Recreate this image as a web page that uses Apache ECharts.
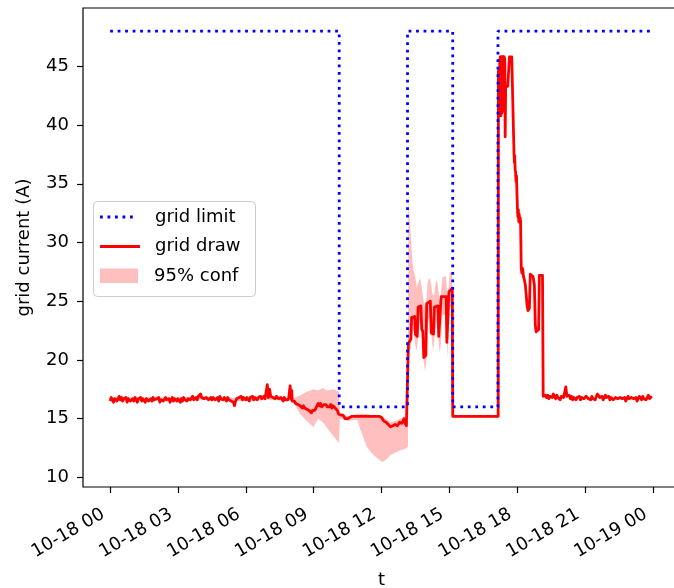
<!DOCTYPE html>
<html>
<head>
<meta charset="utf-8">
<script src="https://cdn.jsdelivr.net/npm/echarts@6/dist/echarts.min.js"></script>
<style>
  html, body { margin: 0; padding: 0; background: #fff; }
  #chart { width: 674px; height: 588px; }
</style>
</head>
<body>
<div id="chart"></div>
<script>
// Time is given in hours from 10-18 00:00.
const xTickHours = [0, 3, 6, 9, 12, 15, 18, 21, 24];
const xTickLabels = ['10-18 00', '10-18 03', '10-18 06', '10-18 09', '10-18 12',
                     '10-18 15', '10-18 18', '10-18 21', '10-19 00'];
const yTicks = [10, 15, 20, 25, 30, 35, 40, 45];

// Grid current limit (A), held until the next change time.
const limitTimes = [0, 10.13, 13.15, 15.15, 17.15, 23.92];
const limitValues = [48, 16, 48, 16, 48, 48];

// Measured grid draw (A): [hour, current]
const gridDraw = [
  [0.00,16.5],[0.05,16.8],[0.10,16.6],[0.15,16.4],[0.20,16.7],[0.25,16.8],[0.30,16.5],[0.35,16.7],[0.40,16.9],[0.45,16.6],
  [0.50,16.8],[0.55,16.5],[0.60,16.7],[0.65,16.6],[0.70,16.8],[0.75,16.4],[0.80,16.7],[0.85,16.8],[0.90,16.5],[0.95,16.6],
  [1.00,16.7],[1.05,16.5],[1.10,16.8],[1.15,16.6],[1.20,16.4],[1.25,16.7],[1.30,16.6],[1.35,16.8],[1.40,16.5],[1.45,16.7],
  [1.50,16.6],[1.55,16.4],[1.60,16.7],[1.65,16.8],[1.70,16.5],[1.75,16.6],[1.80,16.7],[1.85,16.5],[1.90,16.8],[1.95,16.6],
  [2.00,16.5],[2.05,16.7],[2.10,16.6],[2.15,16.8],[2.20,16.4],[2.25,16.6],[2.30,16.7],[2.35,16.5],[2.40,16.6],[2.45,16.8],
  [2.50,16.6],[2.55,16.5],[2.60,16.7],[2.65,16.4],[2.70,16.6],[2.75,16.8],[2.80,16.5],[2.85,16.7],[2.90,16.6],[2.95,16.5],
  [3.00,16.7],[3.05,16.6],[3.10,16.4],[3.15,16.7],[3.20,16.5],[3.25,16.8],[3.30,16.6],[3.35,16.7],[3.40,16.5],[3.45,16.7],
  [3.50,16.8],[3.55,16.6],[3.60,16.7],[3.65,16.9],[3.70,16.6],[3.75,16.7],[3.80,16.8],[3.85,16.6],[3.90,16.9],[3.95,16.8],
  [4.00,17.1],[4.05,16.8],[4.10,16.9],[4.15,16.7],[4.20,16.6],[4.25,16.8],[4.30,16.9],[4.35,16.6],[4.40,16.7],[4.45,16.8],
  [4.50,16.6],[4.55,16.8],[4.60,16.9],[4.65,16.6],[4.70,16.7],[4.75,16.8],[4.80,16.5],[4.85,16.9],[4.90,16.7],[4.95,16.8],
  [5.00,16.6],[5.05,16.8],[5.10,16.7],[5.15,16.5],[5.20,16.8],[5.25,16.6],[5.30,16.7],[5.35,16.5],[5.40,16.6],[5.45,16.4],
  [5.50,16.1],[5.55,16.5],[5.60,16.7],[5.65,16.6],[5.70,16.8],[5.75,16.7],[5.80,16.9],[5.85,16.6],[5.90,16.8],[5.95,16.7],
  [6.00,16.6],[6.05,16.8],[6.10,16.7],[6.15,16.5],[6.20,16.8],[6.25,16.7],[6.30,16.9],[6.35,16.6],[6.40,16.8],[6.45,16.7],
  [6.50,16.6],[6.55,16.8],[6.60,16.7],[6.65,16.9],[6.70,16.7],[6.75,16.8],[6.80,16.9],[6.85,16.7],[6.90,16.8],[6.95,17.9],
  [7.00,16.8],[7.05,17.5],[7.10,16.9],[7.15,17.0],[7.20,16.8],[7.25,16.9],[7.30,16.7],[7.35,16.9],[7.40,16.8],[7.45,16.7],
  [7.50,16.6],[7.55,16.8],[7.60,16.7],[7.65,16.5],[7.70,16.8],[7.75,16.6],[7.80,16.7],[7.85,16.6],[7.90,16.8],[7.96,17.8],
  [8.00,16.7],[8.03,17.4],[8.05,16.5],[8.10,16.4],[8.15,16.5],[8.20,16.3],[8.25,16.4],[8.30,16.2],[8.35,16.3],[8.40,16.1],
  [8.45,16.2],[8.50,15.9],[8.55,16.1],[8.60,15.9],[8.65,16.0],[8.70,15.8],[8.75,15.9],[8.80,15.7],[8.85,15.8],[8.90,15.5],
  [8.95,15.7],[9.00,15.8],[9.05,15.7],[9.10,15.9],[9.15,16.0],[9.20,16.3],[9.25,16.1],[9.30,16.3],[9.35,16.0],[9.40,15.9],
  [9.45,16.2],[9.50,16.1],[9.55,16.2],[9.60,16.0],[9.65,16.1],[9.70,16.0],[9.75,16.2],[9.80,15.9],[9.85,16.1],[9.90,16.0],
  [9.95,15.9],[10.00,16.0],[10.05,15.7],[10.10,15.4],[10.20,15.3],[10.30,15.3],[10.40,15.0],[10.50,15.0],
  [10.60,15.1],[10.70,15.2],[10.90,15.2],[11.50,15.2],[11.90,15.2],[12.00,15.1],[12.10,14.8],[12.20,14.7],[12.30,14.5],[12.40,14.3],
  [12.50,14.4],[12.60,14.5],[12.70,14.4],[12.80,14.7],[12.90,14.6],[13.00,15.0],[13.05,14.6],[13.10,14.4],[13.17,14.3],
  [13.19,21.4],[13.30,21.8],[13.33,23.6],[13.47,23.7],[13.50,22.2],[13.58,22.0],[13.62,24.5],[13.74,24.6],[13.78,22.6],[13.83,22.4],
  [13.87,20.2],[13.96,20.4],[14.00,24.8],[14.16,25.0],[14.20,22.3],[14.30,22.2],[14.34,24.5],[14.50,24.6],[14.53,22.0],[14.60,22.1],
  [14.64,25.4],[14.86,25.4],[14.89,21.5],[14.95,21.6],[14.98,25.8],[15.13,26.1],[15.15,15.2],[17.16,15.2],
  [17.17,44.6],[17.18,41.2],[17.19,44.8],[17.20,40.9],[17.21,44.7],[17.22,41.0],[17.23,45.6],[17.24,40.8],[17.25,45.8],[17.26,41.3],
  [17.27,45.8],[17.28,40.8],[17.29,45.7],[17.30,41.5],[17.31,45.8],[17.32,41.0],[17.33,45.8],[17.34,41.4],[17.35,45.8],[17.36,41.2],
  [17.37,45.8],[17.38,41.6],[17.39,45.8],[17.40,41.5],[17.41,45.8],[17.42,42.0],[17.43,45.8],[17.45,45.6],[17.47,39.0],[17.49,43.3],
  [17.58,43.3],[17.64,43.3],[17.66,45.8],[17.76,45.8],[17.84,45.8],[17.86,37.6],
  [17.88,36.8],[17.89,37.4],[17.91,36.2],[17.93,36.0],[17.95,35.2],[17.97,35.7],[17.99,34.2],[18.01,33.0],[18.03,32.2],[18.05,32.8],
  [18.07,31.8],[18.09,32.4],[18.11,31.7],[18.13,32.1],[18.15,31.8],[18.17,31.9],[18.18,27.8],[18.21,27.4],[18.24,27.8],[18.28,27.1],
  [18.32,26.8],[18.36,26.4],[18.40,26.5],[18.44,24.6],[18.48,24.2],[18.54,24.4],[18.58,27.3],[18.64,27.3],[18.70,27.1],[18.76,26.4],
  [18.80,23.0],[18.84,22.4],[18.90,22.4],[18.95,22.6],[18.98,27.2],[19.05,27.3],[19.12,27.2],[19.15,16.9],
  [19.20,16.9],[19.25,17.0],[19.30,16.8],[19.35,17.0],[19.40,16.7],[19.45,16.9],
  [19.50,17.0],[19.55,16.8],[19.60,17.1],[19.65,16.9],[19.70,16.7],[19.75,17.0],[19.80,16.8],[19.85,16.9],[19.90,16.6],[19.95,16.9],
  [20.00,17.0],[20.05,16.8],[20.10,16.7],[20.15,17.7],[20.20,16.9],[20.25,16.8],[20.30,17.0],[20.35,16.7],[20.40,16.9],[20.45,16.6],
  [20.50,16.8],[20.55,16.9],[20.60,16.6],[20.65,16.8],[20.70,16.7],[20.75,16.9],[20.80,16.6],[20.85,16.8],[20.90,16.9],[20.95,16.7],
  [21.00,16.6],[21.05,16.9],[21.10,17.0],[21.15,16.7],[21.20,16.8],[21.25,16.6],[21.30,16.9],[21.35,16.7],[21.40,16.8],[21.45,16.6],
  [21.50,16.9],[21.55,17.1],[21.60,17.0],[21.65,16.8],[21.70,16.7],[21.75,16.9],[21.80,16.6],[21.85,16.8],[21.90,17.0],[21.95,16.8],
  [22.00,16.7],[22.05,16.9],[22.10,16.6],[22.15,16.8],[22.20,16.9],[22.25,16.6],[22.30,16.5],[22.35,16.8],[22.40,16.9],[22.45,16.7],
  [22.50,16.6],[22.55,16.8],[22.60,16.9],[22.65,16.7],[22.70,16.6],[22.75,16.8],[22.80,16.5],[22.85,16.7],[22.90,16.9],[22.95,16.7],
  [23.00,16.6],[23.05,16.8],[23.10,16.9],[23.15,16.7],[23.20,16.6],[23.25,16.8],[23.30,16.5],[23.35,16.7],[23.40,16.9],[23.45,16.8],
  [23.50,16.6],[23.55,16.9],[23.60,16.7],[23.65,16.8],[23.70,16.6],[23.75,16.8],[23.80,17.0],[23.85,16.7],[23.90,16.8],[23.95,16.9]
];

// 95% confidence band of the grid draw.
const confTimes = [0, 1, 2, 3, 4, 5, 6, 7, 8.0, 8.2, 8.4, 8.7, 8.99, 9.2, 9.4, 9.6, 9.88, 10.12,
  10.16, 10.5, 10.93, 11.06, 11.35, 11.6, 11.8, 12.03, 12.2, 12.4, 12.6, 12.83, 13.0, 13.17,
  13.19, 13.25, 13.3, 13.36, 13.42, 13.5, 13.56, 13.62, 13.69, 13.75, 13.86, 13.93, 13.98, 14.04,
  14.1, 14.16, 14.27, 14.33, 14.4, 14.46, 14.57, 14.62, 14.7, 14.84, 14.93, 15.02, 15.13, 15.15, 17.15];
const confLower = [16.5, 16.5, 16.5, 16.5, 16.6, 16.5, 16.5, 16.6, 16.5, 16.1, 15.4, 14.8, 14.3, 15.0, 14.7, 14.2, 13.5, 12.9,
  15.0, 14.8, 14.9, 14.1, 12.6, 12.0, 11.65, 11.3, 11.5, 11.9, 12.1, 12.3, 12.4, 12.6,
  20.5, 20.8, 21.0, 22.3, 22.5, 21.2, 20.8, 22.0, 23.2, 22.8, 20.0, 19.0, 19.8, 22.8,
  23.6, 23.4, 20.8, 21.5, 23.0, 23.2, 20.6, 21.2, 23.8, 23.9, 20.2, 24.5, 24.7, 15.1, 15.1];
const confUpper = [16.8, 16.8, 16.8, 16.8, 16.9, 16.8, 16.8, 16.9, 16.8, 16.8, 17.0, 17.3, 17.5, 17.4, 17.6, 17.4, 17.5, 17.3,
  15.5, 15.2, 15.4, 15.4, 15.4, 15.3, 15.3, 15.2, 15.0, 14.7, 14.8, 15.0, 15.2, 14.8,
  34.0, 32.0, 30.5, 28.5, 27.6, 27.0, 26.2, 26.5, 27.0, 26.6, 25.0, 24.5, 25.0, 26.6,
  27.0, 26.8, 25.5, 25.5, 26.6, 26.8, 25.0, 25.5, 27.0, 27.2, 25.0, 27.5, 27.3, 15.3, 15.3];

const FONT = 'DejaVu Sans';
const LIMIT_DASH = [2.8, 4.7];

const chart = echarts.init(document.getElementById('chart'), null, { renderer: 'canvas' });

// Band polygon: upper edge left-to-right, lower edge back right-to-left.
function renderConfBand(params, api) {
  const pts = [];
  for (let i = 0; i < confTimes.length; i++) pts.push(api.coord([confTimes[i], confUpper[i]]));
  for (let i = confTimes.length - 1; i >= 0; i--) pts.push(api.coord([confTimes[i], confLower[i]]));
  return {
    type: 'polygon',
    shape: { points: pts },
    style: { fill: '#ffbfbf', stroke: 'none' }
  };
}

chart.setOption({
  animation: false,
  backgroundColor: '#ffffff',
  textStyle: { fontFamily: FONT, color: '#000' },
  grid: {
    left: 83, top: 8, width: 597, height: 479,
    outerBoundsMode: 'none',
    containLabel: false,
    show: true, borderColor: '#000', borderWidth: 1.2, backgroundColor: 'transparent'
  },
  xAxis: {
    type: 'value',
    min: -1.2, max: 25.2,
    name: 't',
    nameLocation: 'middle',
    nameGap: 84,
    nameTextStyle: { fontFamily: FONT, fontSize: 18, color: '#000' },
    axisLine: { show: false, onZero: false },
    splitLine: { show: false },
    axisTick: { show: true, length: 6, customValues: xTickHours, lineStyle: { color: '#000', width: 1.2 } },
    axisLabel: {
      customValues: xTickHours,
      rotate: 30,
      margin: 22,
      padding: [0, 8, 0, 0],
      fontFamily: FONT, fontSize: 18, color: '#000',
      formatter: v => xTickLabels[xTickHours.indexOf(Math.round(v))]
    }
  },
  yAxis: {
    type: 'value',
    min: 9.18, max: 49.97,
    name: 'grid current (A)',
    nameLocation: 'middle',
    nameGap: 50,
    nameTextStyle: { fontFamily: FONT, fontSize: 18, color: '#000' },
    axisLine: { show: false, onZero: false },
    splitLine: { show: false },
    axisTick: { show: true, length: 6, customValues: yTicks, lineStyle: { color: '#000', width: 1.2 } },
    axisLabel: { customValues: yTicks, margin: 14, fontFamily: FONT, fontSize: 18, color: '#000' }
  },
  series: [
    {
      name: '95% conf',
      type: 'custom',
      silent: true,
      clip: true,
      renderItem: renderConfBand,
      data: [[confTimes[0], confLower[0]]],
      z: 1
    },
    {
      name: 'grid draw',
      type: 'line',
      symbol: 'none',
      silent: true,
      lineStyle: { color: '#ff0000', width: 2.8, join: 'round' },
      data: gridDraw,
      z: 2
    },
    {
      name: 'grid limit',
      type: 'line',
      step: 'end',
      symbol: 'none',
      silent: true,
      lineStyle: { color: '#0000ff', width: 2.8, type: LIMIT_DASH, cap: 'butt' },
      data: limitTimes.map((t, i) => [t, limitValues[i]]),
      z: 3
    }
  ],
  graphic: [
    {
      type: 'group', left: 93, top: 201, z: 10,
      children: [
        { type: 'rect', shape: { x: 0.5, y: 0.5, width: 162, height: 95, r: 4 },
          style: { fill: 'rgba(255,255,255,0.8)', stroke: '#cccccc', lineWidth: 1 } },
        { type: 'line', shape: { x1: 7, y1: 16, x2: 44, y2: 16 },
          style: { stroke: '#0000ff', lineWidth: 2.8, lineDash: LIMIT_DASH, lineCap: 'butt' } },
        { type: 'text', style: { x: 62, y: 16, text: 'grid limit', fontFamily: FONT, fontSize: 18, fill: '#000', verticalAlign: 'middle' } },
        { type: 'line', shape: { x1: 7, y1: 45.5, x2: 47, y2: 45.5 },
          style: { stroke: '#ff0000', lineWidth: 2.8 } },
        { type: 'text', style: { x: 62, y: 45.5, text: 'grid draw', fontFamily: FONT, fontSize: 18, fill: '#000', verticalAlign: 'middle' } },
        { type: 'rect', shape: { x: 7, y: 67.5, width: 38, height: 14.5 },
          style: { fill: '#ffbfbf' } },
        { type: 'text', style: { x: 61, y: 75, text: '95% conf', fontFamily: FONT, fontSize: 18, fill: '#000', verticalAlign: 'middle' } }
      ]
    }
  ]
});
</script>
</body>
</html>
